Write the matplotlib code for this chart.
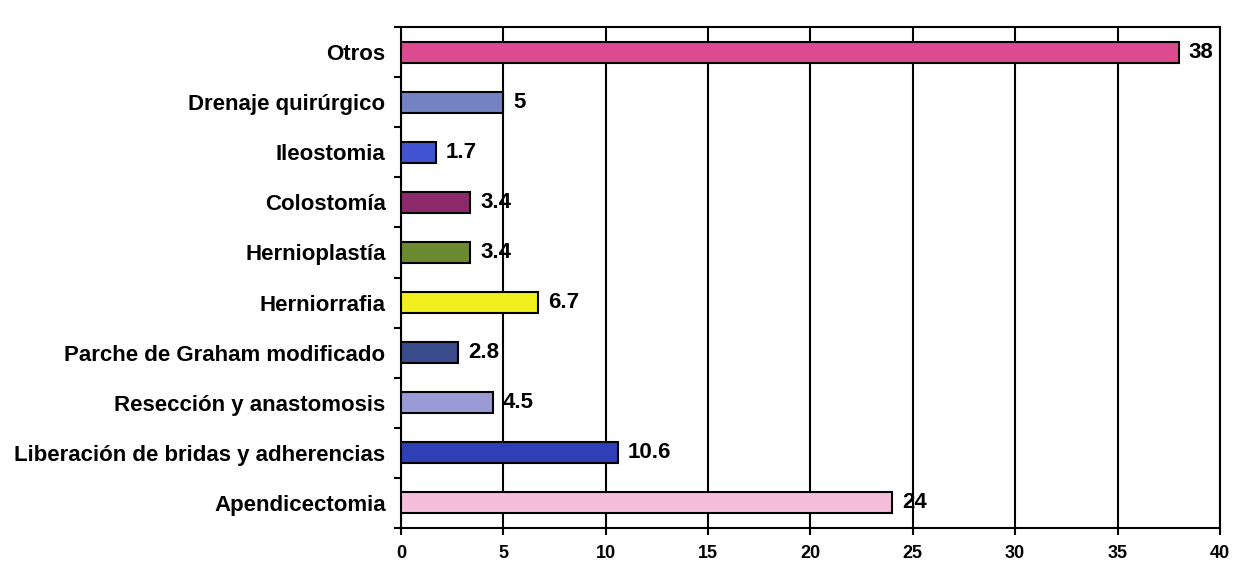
import numpy as np
import matplotlib.pyplot as plt

# datos (de abajo hacia arriba)
procedures = ['Apendicectomia', 'Liberación de bridas y adherencias', 'Resección y anastomosis',
              'Parche de Graham modificado', 'Herniorrafia', 'Hernioplastía', 'Colostomía',
              'Ileostomia', 'Drenaje quirúrgico', 'Otros']
values = [24, 10.6, 4.5, 2.8, 6.7, 3.4, 3.4, 1.7, 5, 38]
value_labels = ['24', '10.6', '4.5', '2.8', '6.7', '3.4', '3.4', '1.7', '5', '38']
bar_colors = ['#f5bfdc', '#2f3fb5', '#9a9ad6', '#3a4c8c', '#f2ef1e', '#6b8a30',
              '#8c2a6c', '#4253d2', '#7482c2', '#dc4a90']
x_ticks = [0, 5, 10, 15, 20, 25, 30, 35, 40]

plt.rcParams['font.family'] = ['Liberation Sans', 'DejaVu Sans']

fig = plt.figure(figsize=(12.41, 5.68), dpi=100)
ax = fig.add_axes([0.323, 0.0704, 0.66, 0.882])

y = np.arange(len(procedures))
ax.barh(y, values, height=0.42, color=bar_colors, edgecolor='black', linewidth=1.5, zorder=3)

for yi, v, lab in zip(y, values, value_labels):
    ax.annotate(lab, (v, yi), xytext=(7, 0), textcoords='offset points',
                va='center', ha='left', fontsize=16, fontweight='bold', zorder=4)

ax.set_xlim(0, 40)
ax.set_ylim(-0.5, len(procedures) - 0.5)
ax.set_xticks(x_ticks)
ax.set_xticklabels([str(t) for t in x_ticks], fontsize=13, fontweight='bold')
ax.xaxis.grid(True, color='black', linewidth=1.5, zorder=0)
ax.set_axisbelow(True)

ax.set_yticks(y)
ax.set_yticklabels(procedures, fontsize=16, fontweight='bold')
ax.set_yticks(np.arange(-0.5, len(procedures), 1), minor=True)
ax.tick_params(axis='y', which='major', length=0, pad=11)
ax.tick_params(axis='y', which='minor', length=5, width=1.5)
ax.tick_params(axis='x', length=5, width=1.5, pad=7)

for s in ax.spines.values():
    s.set_linewidth(1.5)

fig.savefig('out.png', dpi=100)
